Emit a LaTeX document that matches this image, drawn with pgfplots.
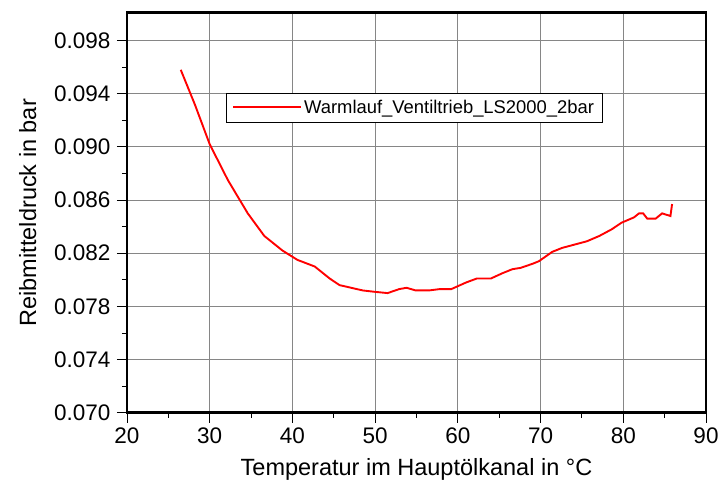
\documentclass[border=0pt]{standalone}
\usepackage{fontspec}
\setmainfont{Liberation Sans}
\usepackage{pgfplots}
\pgfplotsset{compat=1.18}
\usetikzlibrary{calc}
\begin{document}
\begin{tikzpicture}
\begin{axis}[
  scale only axis,
  width=579bp, height=400bp,
  xmin=20, xmax=90, ymin=0.070, ymax=0.1001,
  xtick={20,30,...,90},
  ytick={0.070,0.074,0.078,0.082,0.086,0.090,0.094,0.098},
  minor x tick num=1, minor y tick num=1,
  tick align=outside, xtick pos=bottom, ytick pos=left,
  major tick length=10bp, minor tick length=5bp,
  every tick/.style={draw=black, line width=0.9pt},
  axis line style={draw=none},
  grid=major,
  major grid style={draw=gray!95, line width=1pt},
  /pgf/number format/assume math mode=true,
  yticklabel style={/pgf/number format/fixed, /pgf/number format/fixed zerofill, /pgf/number format/precision=3, xshift=-3bp},
  scaled y ticks=false,
  tick label style={font=\fontsize{22.5bp}{26bp}\selectfont},
  xticklabel style={yshift=-2bp},
  xlabel={Temperatur im Hauptölkanal in °C},
  ylabel={Reibmitteldruck in bar},
  label style={font=\fontsize{23.5bp}{27bp}\selectfont},
  xlabel style={yshift=-7bp},
  ylabel style={yshift=11bp},
  legend style={at={(0.171,0.80)}, anchor=north west, draw=black,
    font=\fontsize{18.4bp}{21bp}\selectfont, inner xsep=6bp, inner ysep=5bp},
  legend image code/.code={\draw[#1, draw=red, line width=2pt] (0bp,0bp) -- (68bp,0bp);},
  legend cell align=left,
  clip=false,
]
\addplot[draw=red, line width=1.9pt] coordinates {
(26.5,0.0958) (28.2,0.0932) (30.0,0.0902) (32.2,0.0875) (34.6,0.0850) (36.6,0.0833)
(38.8,0.0822) (40.6,0.0815) (42.7,0.0810) (44.5,0.0801) (45.7,0.0796) (48.5,0.0792)
(49.9,0.0791) (51.5,0.0790) (52.9,0.0793) (53.8,0.0794) (54.9,0.0792) (56.5,0.0792)
(57.8,0.0793) (59.2,0.0793) (61.0,0.0798) (62.3,0.0801) (64.0,0.0801) (65.4,0.0805)
(66.6,0.0808) (67.6,0.0809) (69.0,0.0812) (69.8,0.0814) (71.4,0.0821) (72.6,0.0824)
(75.6,0.0829) (77.1,0.0833) (78.6,0.0838) (79.8,0.0843) (81.3,0.0847) (81.9,0.0850)
(82.4,0.0850) (82.9,0.0846) (83.9,0.0846) (84.7,0.0850) (85.7,0.0848) (85.9,0.0857)
};
\addlegendentry{Warmlauf\_Ventiltrieb\_LS2000\_2bar}
\end{axis}
\draw[draw=black, line width=2.8bp] (current axis.south west) rectangle (current axis.north east);
\pgfresetboundingbox
\path[use as bounding box] ($(current axis.south west)+(-127bp,-69bp)$) rectangle ($(current axis.north east)+(15bp,12.7bp)$);
\end{tikzpicture}
\end{document}
